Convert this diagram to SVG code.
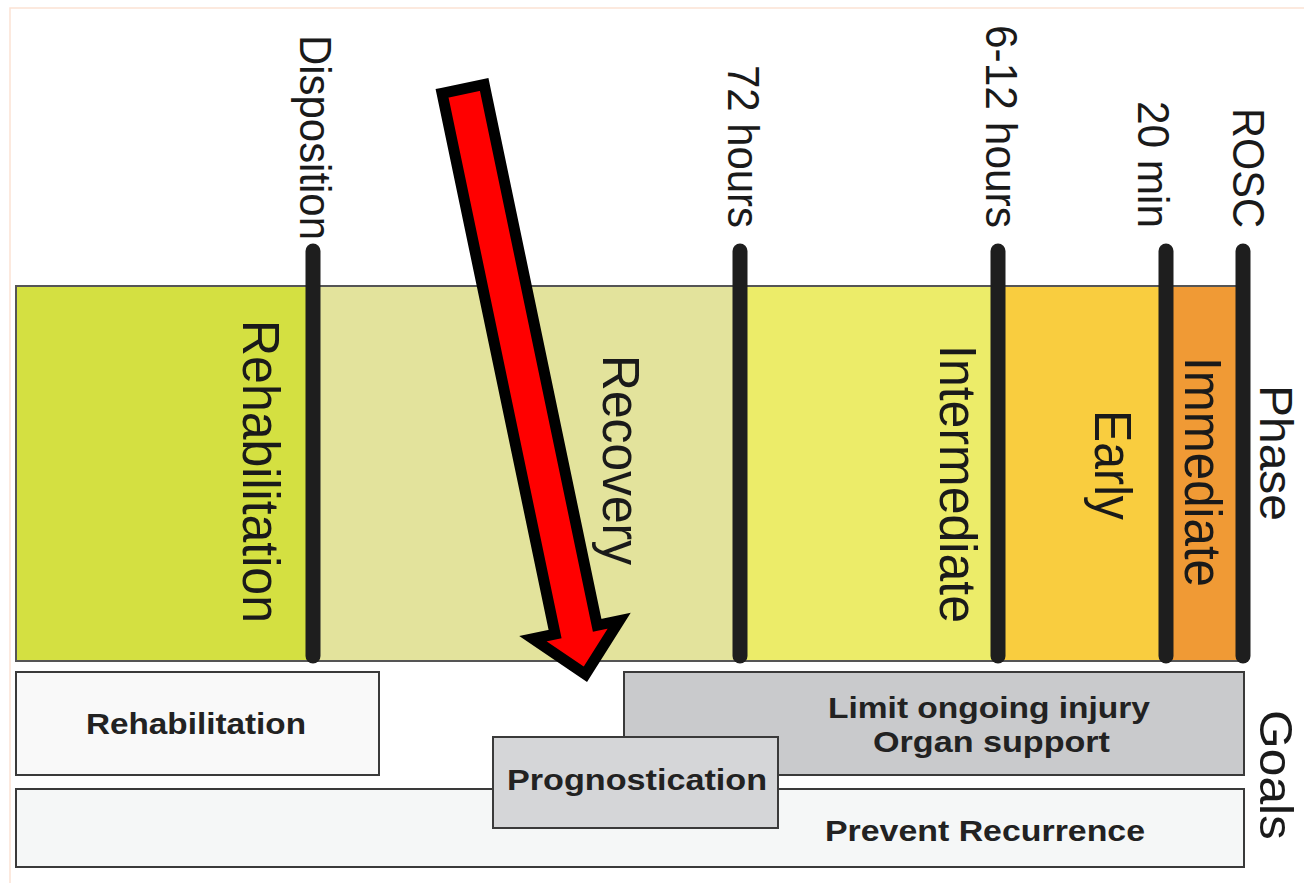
<svg xmlns="http://www.w3.org/2000/svg" width="1304" height="883" viewBox="0 0 1304 883">
<style>
.lbl{font-family:"Liberation Sans",Arial,sans-serif;font-size:45px;fill:#1a1a1a;text-anchor:middle}
.ph{font-family:"Liberation Sans",Arial,sans-serif;font-size:51px;fill:#1a1a1a;text-anchor:middle}
.side{font-family:"Liberation Sans",Arial,sans-serif;font-size:47px;fill:#1a1a1a;text-anchor:middle}
.goal{font-family:"Liberation Sans",Arial,sans-serif;font-size:30px;font-weight:bold;fill:#222;text-anchor:middle}
.box{stroke:#3a3a3a;stroke-width:2}
.bar{stroke:#1e1e1e;stroke-width:15;stroke-linecap:round}
</style>
<rect x="0" y="0" width="1304" height="883" fill="#ffffff"/>
<path d="M10 883 V8 H1304" fill="none" stroke="#fbe2d4" stroke-width="1.5"/>

<g id="phase-band">
  <rect x="16" y="286" width="297" height="375" fill="#d4e041"/>
  <rect x="313" y="286" width="426" height="375" fill="#e3e39c"/>
  <rect x="739" y="286" width="259" height="375" fill="#ecec69"/>
  <rect x="998" y="286" width="168" height="375" fill="#f9cd3f"/>
  <rect x="1166" y="286" width="78" height="375" fill="#f09a35"/>
  <path d="M1244 286 H16 V661 H1244" fill="none" stroke="#555" stroke-width="2"/>
</g>

<g id="phase-labels">
  <text class="ph" transform="translate(243,471.5) rotate(90)" textLength="303" lengthAdjust="spacingAndGlyphs">Rehabilitation</text>
  <text class="ph" transform="translate(603,460) rotate(90)" textLength="210" lengthAdjust="spacingAndGlyphs">Recovery</text>
  <text class="ph" transform="translate(940,484) rotate(90)" textLength="278" lengthAdjust="spacingAndGlyphs">Intermediate</text>
  <text class="ph" transform="translate(1095,465) rotate(90)" textLength="110" lengthAdjust="spacingAndGlyphs">Early</text>
  <text class="ph" transform="translate(1185,472) rotate(90)" textLength="230" lengthAdjust="spacingAndGlyphs">Immediate</text>
  <text class="side" transform="translate(1260,453) rotate(90)" textLength="136" lengthAdjust="spacingAndGlyphs">Phase</text>
  <text class="side" transform="translate(1260,775) rotate(90)" textLength="130" lengthAdjust="spacingAndGlyphs">Goals</text>
</g>

<g id="time-markers">
  <line class="bar" x1="313" y1="251" x2="313" y2="656"/>
  <line class="bar" x1="740" y1="251" x2="740" y2="656"/>
  <line class="bar" x1="998" y1="251" x2="998" y2="656"/>
  <line class="bar" x1="1166" y1="251" x2="1166" y2="656"/>
  <line class="bar" x1="1243" y1="251" x2="1243" y2="656"/>
  <text class="lbl" transform="translate(300,137.5) rotate(90)" textLength="205" lengthAdjust="spacingAndGlyphs">Disposition</text>
  <text class="lbl" transform="translate(728,146.5) rotate(90)" textLength="163" lengthAdjust="spacingAndGlyphs">72 hours</text>
  <text class="lbl" transform="translate(986,126.5) rotate(90)" textLength="203" lengthAdjust="spacingAndGlyphs">6-12 hours</text>
  <text class="lbl" transform="translate(1138,164.5) rotate(90)" textLength="127" lengthAdjust="spacingAndGlyphs">20 min</text>
  <text class="lbl" transform="translate(1233,168) rotate(90)" textLength="120" lengthAdjust="spacingAndGlyphs">ROSC</text>
</g>

<g id="goal-rehabilitation">
  <rect class="box" x="16" y="672" width="363" height="103" fill="#f9f9f9"/>
  <text class="goal" x="196" y="734" textLength="220" lengthAdjust="spacingAndGlyphs">Rehabilitation</text>
</g>
<g id="goal-limit-injury">
  <rect class="box" x="624" y="672" width="620" height="103" fill="#c9cacc"/>
  <text class="goal" x="989" y="718" textLength="322" lengthAdjust="spacingAndGlyphs">Limit ongoing injury</text>
  <text class="goal" x="991.5" y="752" textLength="237" lengthAdjust="spacingAndGlyphs">Organ support</text>
</g>
<g id="goal-prevent-recurrence">
  <rect class="box" x="16" y="789" width="1228" height="78" fill="#f5f7f7"/>
  <text class="goal" x="985" y="841" textLength="320" lengthAdjust="spacingAndGlyphs">Prevent Recurrence</text>
</g>
<g id="goal-prognostication">
  <rect class="box" x="493" y="737" width="285" height="91" fill="#d5d6d8"/>
  <text class="goal" x="637" y="790" textLength="260" lengthAdjust="spacingAndGlyphs">Prognostication</text>
</g>

<g id="connectors">
  <polygon transform="translate(462,83.5) rotate(-11.8)" points="-21.5,5.5 21.5,5.5 21.5,558 44,558 0,603.5 -44,558 -21.5,558" fill="#ff0000" stroke="#000000" stroke-width="11" stroke-linejoin="miter" stroke-miterlimit="6"/>
</g>
</svg>
